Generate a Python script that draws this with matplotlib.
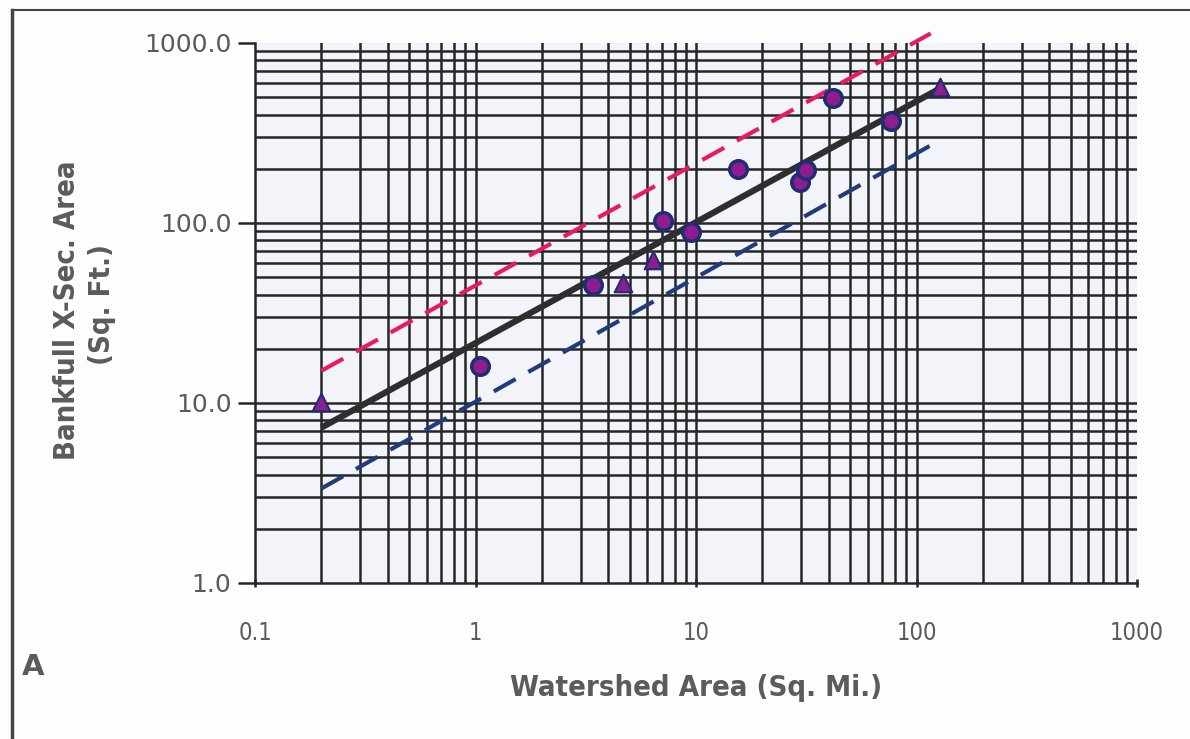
import matplotlib
matplotlib.use("Agg")
import matplotlib.pyplot as plt
from matplotlib.lines import Line2D
from matplotlib.ticker import FixedLocator, NullFormatter

# DATA
circle_x = [1.05, 3.4, 7.05, 9.5, 15.5, 29.5, 31.5, 42.0, 77.0]
circle_y = [16.0, 45.5, 102.0, 89.0, 200.0, 169.0, 197.0, 494.0, 369.0]

tri_x = [0.2, 4.65, 6.35, 128.0]
tri_y = [10.1, 46.5, 62.0, 570.0]

fit_x = [0.2, 128.0]
fit_y = [7.3, 560.0]

upper_x = [0.2, 116.0]
upper_y = [15.1, 1130.0]

lower_x = [0.2, 116.0]
lower_y = [3.35, 270.0]

x_ticks = [0.1, 1, 10, 100, 1000]
x_labels = ["0.1", "1", "10", "100", "1000"]
y_ticks = [1, 10, 100, 1000]
y_labels = ["1.0", "10.0", "100.0", "1000.0"]

# COLORS
GRID = "#262626"
TEXT = "#5a5a5f"
PURPLE = "#8e1d8e"
NAVY = "#1d2f73"
RED = "#ea1a5e"
BLUE = "#1f3d7c"

fig = plt.figure(figsize=(11.9, 7.39), dpi=100)
fig.set_facecolor("#fdfdfe")
ax = fig.add_axes([255 / 1190, 1 - 583 / 739, (1137 - 255) / 1190, (583 - 43) / 739])
ax.set_facecolor("#f2f4f9")

ax.set_xscale("log")
ax.set_yscale("log")
ax.set_xlim(0.1, 1000)
ax.set_ylim(1, 1000)

# grid lines (major + minor), no line on the top/right edge
grid_x = [m * 10.0 ** e for e in range(-1, 3) for m in range(1, 10)][1:]
grid_y = [m * 10.0 ** e for e in range(0, 3) for m in range(1, 10)][1:]
for gx in grid_x:
    ax.axvline(gx, color=GRID, lw=1.8, zorder=1)
for gy in grid_y:
    ax.axhline(gy, color=GRID, lw=1.8, zorder=1)

# lines
ax.plot(fit_x, fit_y, color="#2e2e2e", lw=4.5, solid_capstyle="butt", zorder=3)
ax.plot(upper_x, upper_y, color=RED, lw=3, dashes=(6, 3.5), zorder=3, clip_on=False)
ax.plot(lower_x, lower_y, color=BLUE, lw=3, dashes=(6, 3.5), zorder=3)

# points
ax.scatter(circle_x, circle_y, s=160, marker="o", facecolor=PURPLE, edgecolor=NAVY,
           linewidth=2.5, zorder=4)
ax.scatter(tri_x, tri_y, s=160, marker="^", facecolor=PURPLE, edgecolor=NAVY,
           linewidth=1.5, zorder=4, clip_on=False)

# axes styling
for side in ["top", "right"]:
    ax.spines[side].set_visible(False)
for side in ["left", "bottom"]:
    ax.spines[side].set_color(GRID)
    ax.spines[side].set_linewidth(1.8)

ax.xaxis.set_major_locator(FixedLocator(x_ticks))
ax.set_xticklabels(x_labels, fontstretch="condensed")
ax.yaxis.set_major_locator(FixedLocator(y_ticks))
ax.set_yticklabels(y_labels)
ax.xaxis.set_minor_formatter(NullFormatter())
ax.yaxis.set_minor_formatter(NullFormatter())
ax.tick_params(axis="x", which="major", length=6, width=1.8, color=GRID, direction="inout",
               labelsize=17, labelcolor=TEXT, pad=24)
ax.tick_params(axis="y", which="major", length=12, width=1.8, color=GRID, direction="out",
               labelsize=18, labelcolor=TEXT, pad=5)
ax.tick_params(which="minor", length=0)

ax.set_xlabel("Watershed Area (Sq. Mi.)", fontsize=21, fontweight="bold", color=TEXT,
              fontstretch="condensed", labelpad=21)
fig.text(67 / 1190, 1 - 310 / 739, "Bankfull X-Sec. Area", rotation=90, ha="center", va="center",
         fontsize=21, fontweight="bold", color=TEXT, fontstretch="condensed")
fig.text(102 / 1190, 1 - 305 / 739, "(Sq. Ft.)", rotation=90, ha="center", va="center",
         fontsize=21, fontweight="bold", color=TEXT, fontstretch="condensed")

fig.text(33 / 1190, 1 - 667 / 739, "A", ha="center", va="center", fontsize=21,
         fontweight="bold", color=TEXT)

# frame lines
fig.add_artist(Line2D([12 / 1190, 1], [1 - 10 / 739, 1 - 10 / 739], color="#444448", lw=1.5))
fig.add_artist(Line2D([12 / 1190, 12 / 1190], [0, 1 - 10 / 739], color="#444448", lw=2.5))

fig.savefig("out.png", dpi=100)
